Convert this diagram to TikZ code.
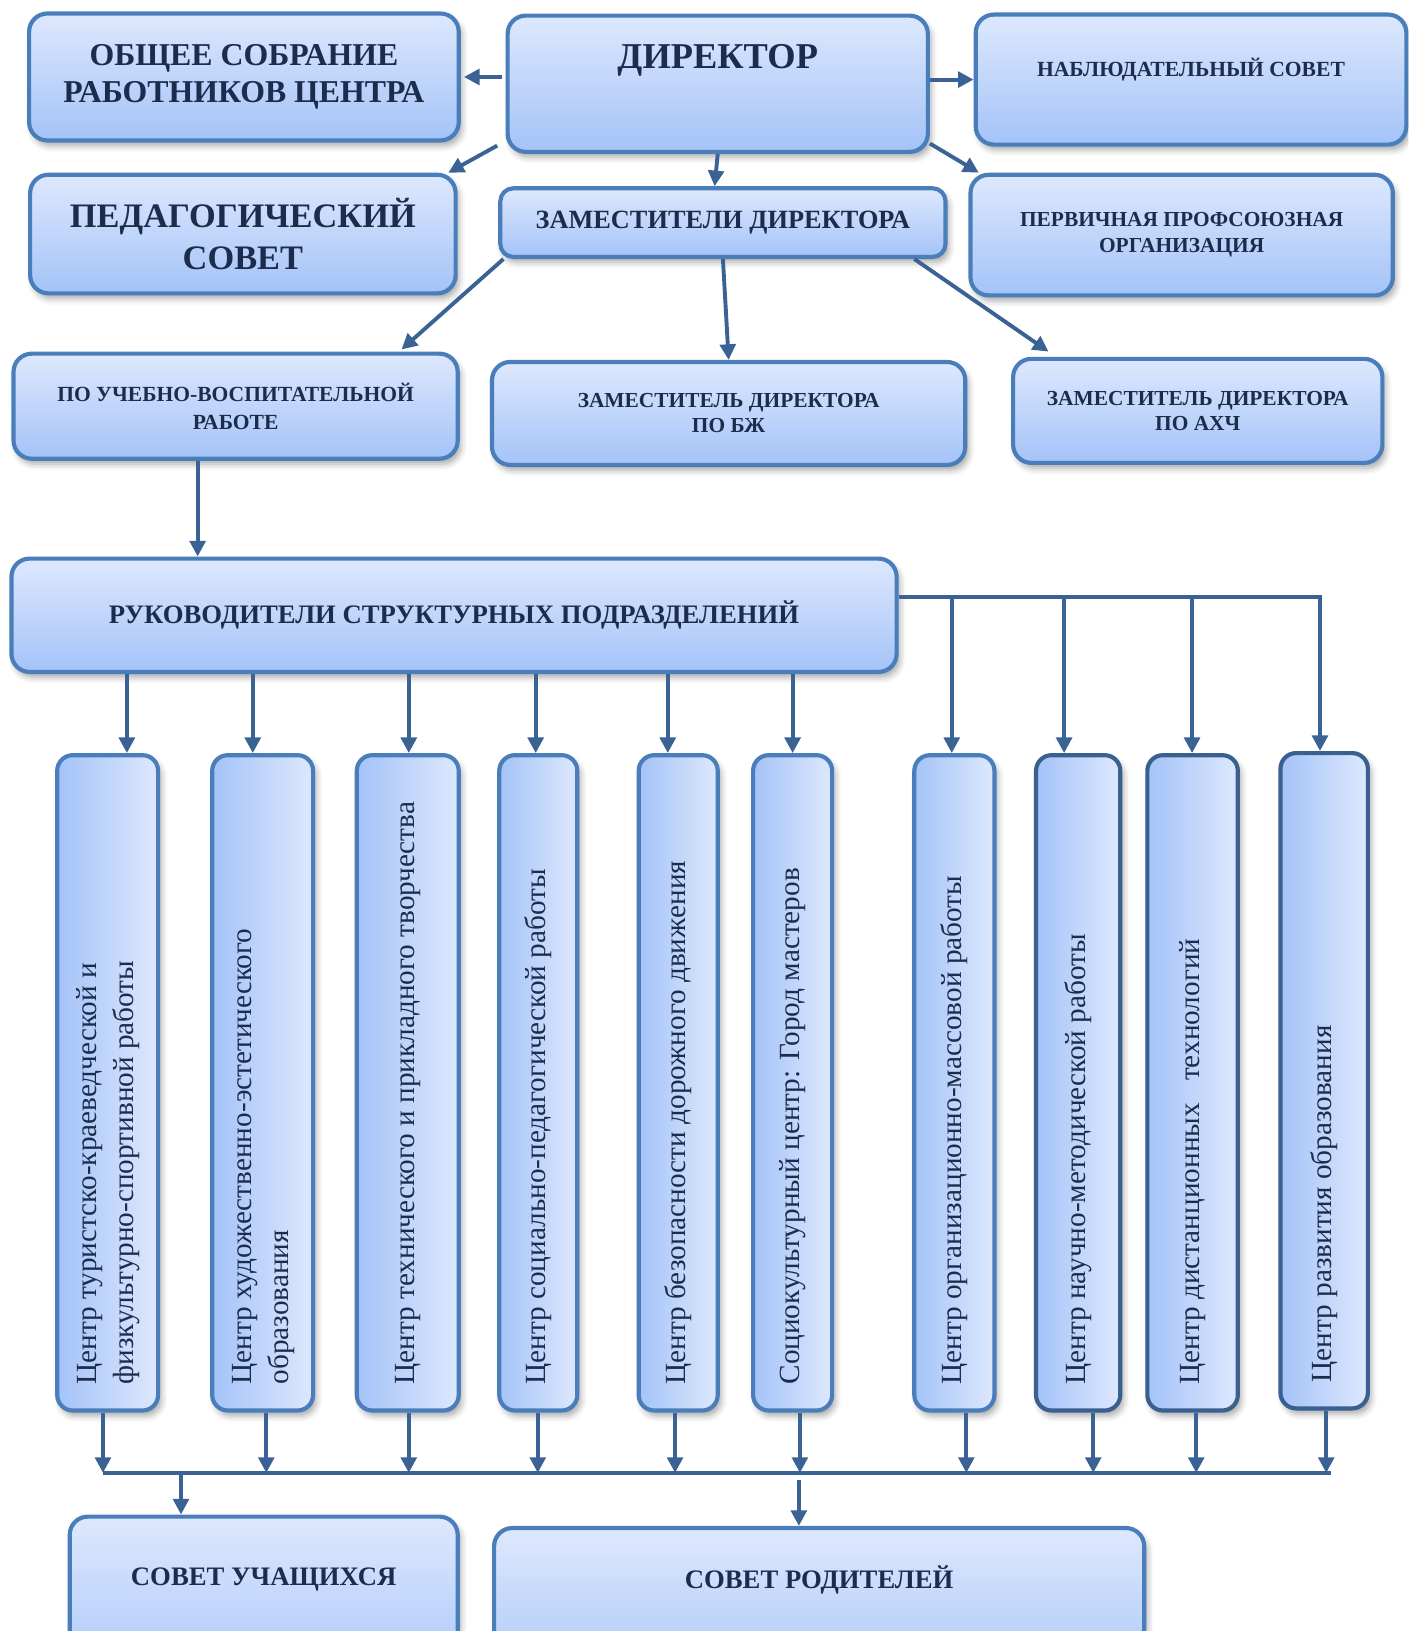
\documentclass[tikz,border=0pt]{standalone}
\usepackage{fontspec}
\setmainfont{Liberation Serif}
\usepackage{tikz}
\usetikzlibrary{calc,arrows.meta,shadows.blur}
\definecolor{OrgTop}{HTML}{DDE8FD}
\definecolor{OrgBottom}{HTML}{A4C3F8}
\definecolor{OrgBorder}{HTML}{4A7EBB}
\definecolor{OrgBorderDark}{HTML}{3A6090}
\definecolor{OrgArrow}{HTML}{3B6294}
\definecolor{OrgText}{HTML}{1C2C4C}

\begin{document}
\begin{tikzpicture}[x=0.2mm, y=-0.2mm,
	cadre/.style={draw=OrgBorder, line width=0.8mm, rounded corners=3.5mm, text=OrgText, align=center, inner sep=0pt,
		blur shadow={shadow xshift=0.6mm, shadow yshift=-1mm, shadow blur radius=1.2mm, shadow opacity=35}},
	hbloc/.style={cadre, top color=OrgTop, bottom color=OrgBottom},
	vbloc/.style={cadre, left color=OrgBottom, right color=OrgTop, rounded corners=3mm, minimum width=#1, minimum height=126mm, font=\fontsize{16}{20}\selectfont},
	fleche/.style={draw=OrgArrow, line width=0.75mm, -{Triangle[length=3mm, width=3mm]}},
	ligne/.style={draw=OrgArrow, line width=0.8mm}]
		\useasboundingbox (0,0) rectangle (1354,1568);
		\clip (0,0) rectangle (1354,1568);

		% Direction et conseils
		\node[hbloc, minimum width=80.8mm, text height=10.1mm, text depth=16.1mm, font={\bfseries\fontsize{19.9}{22}\selectfont}] (dir) at (690,80.5) {ДИРЕКТОР};
		\node[hbloc, minimum width=82.6mm, minimum height=24.4mm, font={\bfseries\fontsize{17.4}{20.5}\selectfont}] (sobr) at (234.5,74) {ОБЩЕЕ СОБРАНИЕ\\РАБОТНИКОВ ЦЕНТРА};
		\node[hbloc, minimum width=82.8mm, text height=12mm, text depth=13mm, font={\bfseries\fontsize{11.8}{14}\selectfont}] (nabl) at (1145,76.5) {НАБЛЮДАТЕЛЬНЫЙ СОВЕТ};
		\node[hbloc, minimum width=81.8mm, minimum height=22.8mm, font={\bfseries\fontsize{18.8}{22.8}\selectfont}] (ped) at (233.5,225) {ПЕДАГОГИЧЕСКИЙ\\СОВЕТ};
		\node[hbloc, rounded corners=2.5mm, minimum width=85.6mm, minimum height=13.2mm, font={\bfseries\fontsize{14.4}{16}\selectfont}] (zam) at (695,214) {ЗАМЕСТИТЕЛИ ДИРЕКТОРА};
		\node[hbloc, minimum width=81.2mm, minimum height=23.2mm, font={\bfseries\fontsize{11.7}{14.2}\selectfont}] (perv) at (1136,226) {ПЕРВИЧНАЯ ПРОФСОЮЗНАЯ\\ОРГАНИЗАЦИЯ};

		% Adjoints
		\node[hbloc, minimum width=85.4mm, minimum height=20.2mm, font={\bfseries\fontsize{11.8}{15.4}\selectfont}] (uvr) at (226.5,390.5) {ПО УЧЕБНО-ВОСПИТАТЕЛЬНОЙ\\РАБОТЕ};
		\node[hbloc, minimum width=91mm, minimum height=19.8mm, font={\bfseries\fontsize{11.7}{13.7}\selectfont}] (bzh) at (700.5,397.5) {ЗАМЕСТИТЕЛЬ ДИРЕКТОРА\\ПО БЖ};
		\node[hbloc, minimum width=71mm, minimum height=20mm, font={\bfseries\fontsize{11.7}{13.7}\selectfont}] (ahch) at (1151.5,395) {ЗАМЕСТИТЕЛЬ ДИРЕКТОРА\\ПО АХЧ};
		\node[hbloc, minimum width=170.2mm, minimum height=21.8mm, font={\bfseries\fontsize{14.6}{16}\selectfont}] (ruk) at (436.5,591.5) {РУКОВОДИТЕЛИ СТРУКТУРНЫХ ПОДРАЗДЕЛЕНИЙ};

		% Centres (texte vertical)
		\node[vbloc=19.4mm] (va) at (103.5,1041) {\rotatebox{90}{\makebox[116mm][l]{\begin{tabular}{@{}l@{}}Центр туристско-краеведческой и\\физкультурно-спортивной работы\end{tabular}}}};
		\node[vbloc=19.4mm] (vb) at (252.5,1041) {\rotatebox{90}{\makebox[116mm][l]{\begin{tabular}{@{}l@{}}Центр художественно-эстетического\\образования\end{tabular}}}};
		\node[vbloc=19.6mm] (vc) at (392,1041) {\rotatebox{90}{\makebox[116mm][l]{Центр технического и прикладного творчества}}};
		\node[vbloc=15mm] (vd) at (517.5,1041) {\rotatebox{90}{\makebox[116mm][l]{Центр социально-педагогической работы}}};
		\node[vbloc=15.2mm] (ve) at (652,1041) {\rotatebox{90}{\makebox[116mm][l]{Центр безопасности дорожного движения}}};
		\node[vbloc=15.2mm] (vf) at (762,1041) {\rotatebox{90}{\makebox[116mm][l]{Социокультурный центр: Город мастеров}}};
		\node[vbloc=15.4mm] (vg) at (917.5,1041) {\rotatebox{90}{\makebox[116mm][l]{Центр организационно-массовой работы}}};
		\node[vbloc=16.2mm, draw=OrgBorderDark] (vh) at (1036.5,1041) {\rotatebox{90}{\makebox[116mm][l]{Центр научно-методической работы}}};
		\node[vbloc=17.4mm, draw=OrgBorderDark] (vi) at (1146.5,1041) {\rotatebox{90}{\makebox[116mm][l]{Центр дистанционных~~ технологий}}};
		\node[vbloc=16.8mm, draw=OrgBorderDark] (vj) at (1273,1039) {\rotatebox{90}{\makebox[116mm][l]{Центр развития образования}}};

		% Conseils du bas
		\node[hbloc, minimum width=74.6mm, text height=13.3mm, text depth=23.1mm, font={\bfseries\fontsize{14.6}{16}\selectfont}] (sovu) at (253.5,1549) {СОВЕТ УЧАЩИХСЯ};
		\node[hbloc, minimum width=125mm, text height=11.7mm, text depth=22.5mm, font={\bfseries\fontsize{14.6}{16}\selectfont}] (sovr) at (787.5,1554.5) {СОВЕТ РОДИТЕЛЕЙ};

		% Liaisons du haut
		\draw[fleche, shorten <=0.6mm, shorten >=0.6mm] (dir.west |- sobr.east) -- (sobr.east);
		\draw[fleche] (dir.east |- nabl.west) -- (nabl.west);
		\draw[fleche] ($(dir.south west)+(-8,-8)$) -- ($(ped.north east)+(-9,0)$);
		\draw[fleche] (dir.south) -- ($(zam.north)+(-8,0)$);
		\draw[fleche] ($(dir.south east)+(0,-10)$) -- ($(perv.north west)+(10,0)$);
		\draw[fleche] ($(zam.south west)+(5,0)$) -- ($(uvr.north east)+(-56,-2)$);
		\draw[fleche] (zam.south) -- (bzh.north);
		\draw[fleche] ($(zam.south east)+(-32,0)$) -- ($(ahch.north west)+(36,-5)$);
		\coordinate (u1) at ($(uvr.south)+(-36.5,0)$);
		\draw[fleche] (u1) -- (u1 |- ruk.north);

		% Vers les centres
		\foreach \b/\x in {va/122,vb/243,vc/393,vd/515,ve/642,vf/762}
			\draw[fleche] (ruk.south -| \x,0) -- (\b.north -| \x,0);
		\coordinate (coude) at (1269,574);
		\draw[fleche] (ruk.east |- coude) -- (coude) -- (vj.north -| coude);
		\foreach \b/\x in {vg/915,vh/1023,vi/1146}
			\draw[fleche] (coude -| \x,0) -- (\b.north -| \x,0);

		% Barre du bas
		\coordinate (busG) at (99,1416);
		\coordinate (busD) at (1280,1416);
		\draw[ligne] (busG) -- (busD);
		\foreach \b/\x in {va/99,vb/256,vc/393,vd/517,ve/649,vf/769,vg/929,vh/1051,vi/1150,vj/1275}
			\draw[fleche] (\b.south -| \x,0) -- (busG -| \x,0);
		\draw[fleche] (busG -| 174,0) -- (sovu.north -| 174,0);
		\draw[fleche, shorten <=1.4mm] (busG -| 768,0) -- (sovr.north -| 768,0);
	\end{tikzpicture}
\end{document}
